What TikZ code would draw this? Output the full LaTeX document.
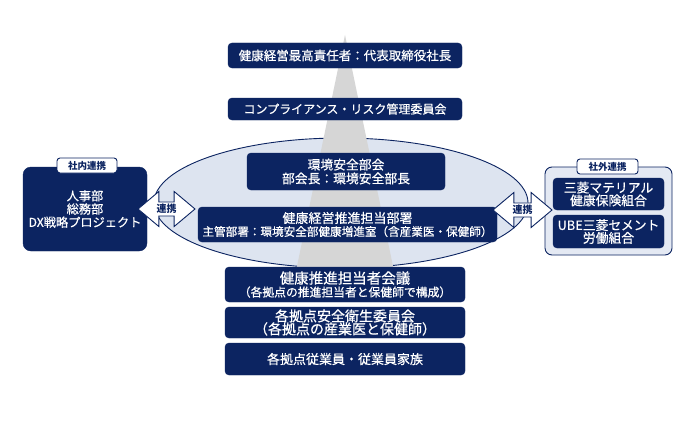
\documentclass[tikz,border=0pt]{standalone}
\usepackage{fontspec}
\setmainfont{Noto Sans CJK JP}
\newfontfamily\mfont{Noto Sans CJK JP}[FakeBold=0.6]
\usetikzlibrary{shapes.arrows,shapes.geometric}
\definecolor{navy}{HTML}{0C2461}
\definecolor{ellfill}{HTML}{DDE4F0}
\definecolor{grpfill}{HTML}{E4E9F3}
\definecolor{cone}{HTML}{D6D6D6}
\newcommand{\fs}[1]{\fontsize{#1}{#1}\selectfont}
\tikzset{
  nbox/.style={draw=navy, fill=navy, text=white, rounded corners=4pt, align=center, inner sep=0pt},
  tab/.style={draw=navy, fill=white, text=navy, rounded corners=3pt, line width=0.9pt, inner sep=0pt, font=\fs{9.5}\bfseries},
  darr/.style={double arrow, draw=navy, fill=white, line width=0.9pt, text=navy, double arrow head extend=10.5pt, minimum width=34pt, inner sep=1.8pt, font=\fs{10}\bfseries, double arrow tip angle=80},
}
\begin{document}
\begin{tikzpicture}[x=1pt,y=-1pt]
\useasboundingbox (0,0) rectangle (690,420);
\fill[white] (0,0) rectangle (690,420);
% ellipse
\node[ellipse, draw=navy, fill=ellfill, line width=0.9pt, minimum width=374pt, minimum height=130pt, inner sep=0pt] (ell) at (341,203) {};
% cone
\fill[cone] (345,35) -- (400,300) -- (290,300) -- cycle;
% top boxes
\node[nbox, minimum width=234pt, minimum height=25pt, font=\mfont\fs{12.5}] (ceo) at (345,55.5) {健康経営最高責任者：代表取締役社長};
\node[nbox, minimum width=234pt, minimum height=22pt, font=\mfont\fs{12}] (comp) at (345,109) {コンプライアンス・リスク管理委員会};
\node[nbox, minimum width=198pt, minimum height=37pt, font=\mfont\fs{12.8}] (env) at (346,171.5) {環境安全部会\\[1pt]部会長：環境安全部長};
\node[nbox, minimum width=299pt, minimum height=35pt, font=\mfont] (prom) at (347.5,224.5) {{\fs{13}健康経営推進担当部署}\\[1pt]{\fs{11.6}主管部署：環境安全部健康増進室（含産業医・保健師）}};
% bottom boxes
\node[nbox, minimum width=240pt, minimum height=35pt, font=\mfont] (meet) at (345,284.5) {{\fs{14.5}健康推進担当者会議}\\[1pt]{\fs{11.8}（各拠点の推進担当者と保健師で構成）}};
\node[nbox, minimum width=240pt, minimum height=31pt, font=\mfont\fs{14}] (safe) at (345,322.5) {各拠点安全衛生委員会\\[-1pt]（各拠点の産業医と保健師）};
\node[nbox, minimum width=240pt, minimum height=32pt, font=\mfont\fs{13}] (emp) at (345,359) {各拠点従業員・従業員家族};
% left group
\node[nbox, rounded corners=8pt, minimum width=124pt, minimum height=84pt, font=\mfont\fs{12.2}] (left) at (85,209) {人事部\\[1pt]総務部\\[1pt]DX戦略プロジェクト};
\node[tab, minimum width=60pt, minimum height=15pt] (ltab) at (87,165.5) {社内連携};
% right group
\node[draw=navy, fill=grpfill, line width=0.9pt, rounded corners=7pt, minimum width=127pt, minimum height=88pt, inner sep=0pt] (right) at (608.5,211) {};
\node[tab, minimum width=61pt, minimum height=15pt] (rtab) at (607.5,166.5) {社外連携};
\node[nbox, minimum width=111pt, minimum height=32pt, font=\mfont\fs{12.8}] (kenpo) at (608.5,194) {三菱マテリアル\\[0pt]健康保険組合};
\node[nbox, minimum width=111pt, minimum height=33pt, font=\mfont\fs{12.8}] (union) at (608.5,231.5) {UBE三菱セメント\\[0pt]労働組合};
% arrows
\node[darr, minimum height=57pt] (la) at (166.5,209) {連携};
\node[darr, minimum height=59pt] (ra) at (522.5,210) {連携};
\end{tikzpicture}
\end{document}
